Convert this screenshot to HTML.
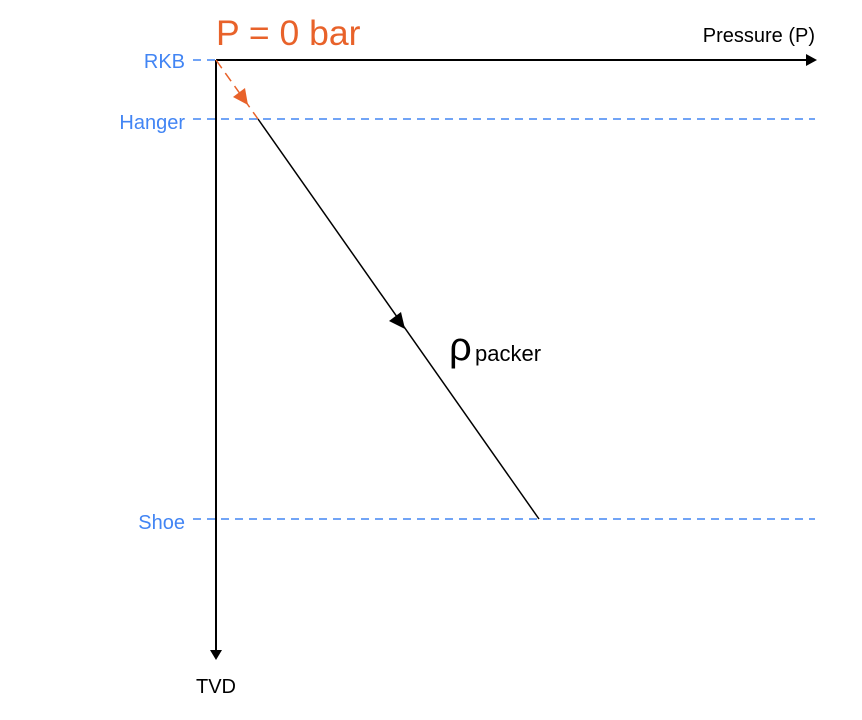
<!DOCTYPE html>
<html><head><meta charset="utf-8"><style>
html,body{margin:0;padding:0;background:#fff;}
svg{display:block;}
text{font-family:"Liberation Sans",sans-serif;}
</style></head><body>
<svg width="862" height="720" viewBox="0 0 862 720" xmlns="http://www.w3.org/2000/svg">
<g stroke="#4285f4" stroke-width="1.5" stroke-dasharray="8,6" fill="none">
<line x1="193" y1="60" x2="216" y2="60"/>
<line x1="193" y1="119" x2="815" y2="119"/>
<line x1="193" y1="519" x2="815" y2="519"/>
</g>
<line x1="216" y1="60" x2="216" y2="650" stroke="#000" stroke-width="2"/>
<polygon points="210,650 222,650 216,660" fill="#000"/>
<line x1="216" y1="60" x2="806" y2="60" stroke="#000" stroke-width="2"/>
<polygon points="806,54 806,66 817,60" fill="#000"/>
<line x1="216" y1="60" x2="258" y2="119" stroke="#e8622a" stroke-width="1.5" stroke-dasharray="10,6"/>
<polygon points="248,105 233,97 245,88" fill="#e8622a"/>
<line x1="258" y1="119" x2="539" y2="519" stroke="#000" stroke-width="1.5"/>
<polygon points="405,329 389,321 401,312" fill="#000"/>
<text x="216" y="45" font-size="35.5" fill="#e8622a">P = 0 bar</text>
<text x="815" y="42" font-size="20" text-anchor="end" fill="#000">Pressure (P)</text>
<text x="185" y="68" font-size="20" text-anchor="end" fill="#4285f4">RKB</text>
<text x="185" y="129" font-size="20" text-anchor="end" fill="#4285f4">Hanger</text>
<text x="185" y="529" font-size="20" text-anchor="end" fill="#4285f4">Shoe</text>
<text x="216" y="693" font-size="20" text-anchor="middle" fill="#000">TVD</text>
<text x="449" y="360" font-size="40" fill="#000">ρ</text>
<text x="475" y="361" font-size="22" fill="#000">packer</text>
</svg>
</body></html>
